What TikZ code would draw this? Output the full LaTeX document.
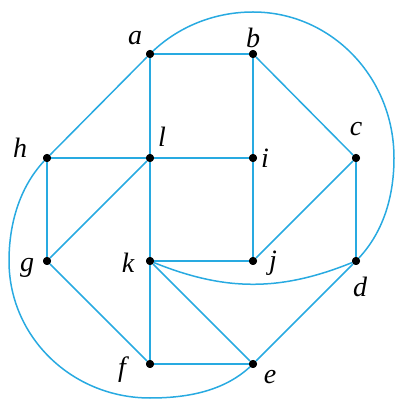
\documentclass[tikz,border=0pt]{standalone}
\usepackage{fontspec}
\setmainfont{Liberation Serif}[ItalicFont={Liberation Serif Italic}]
\usetikzlibrary{positioning}
\definecolor{edgeblue}{RGB}{40,170,225}

\begin{document}
\begin{tikzpicture}[x=1pt, y=1pt,
  vtx/.style={circle, fill=black, inner sep=0pt, minimum size=8pt},
  lbl/.style={inner sep=0pt, font=\fontsize{28}{30}\selectfont\itshape},
  edge/.style={draw=edgeblue, line width=1.5pt}]
  \useasboundingbox (0,0) rectangle (395,399);

  % Vertices
  \node[vtx] (a) at (150,345) {};
  \node[vtx] (b) at (253,345) {};
  \node[vtx] (h) at (47,241) {};
  \node[vtx] (l) at (150,241) {};
  \node[vtx] (i) at (253,241) {};
  \node[vtx] (c) at (356,241) {};
  \node[vtx] (g) at (47,138) {};
  \node[vtx] (k) at (150,138) {};
  \node[vtx] (j) at (253,138) {};
  \node[vtx] (d) at (356,138) {};
  \node[vtx] (f) at (150,35) {};
  \node[vtx] (e) at (253,35) {};

  % Labels
  \node[lbl] (la) at (135,361) {a};
  \node[lbl] (lb) at (253,361) {b};
  \node[lbl] (lc) at (356,270) {c};
  \node[lbl] (lh) at (20,251) {h};
  \node[lbl] (ll) at (162,262) {l};
  \node[lbl] (li) at (265,241) {i};
  \node[lbl] (lg) at (27,131) {g};
  \node[lbl] (lk) at (128,136) {k};
  \node[lbl] (lj) at (273,136) {j};
  \node[lbl] (ld) at (360,112) {d};
  \node[lbl] (lf) at (122,29) {f};
  \node[lbl] (le) at (270,22) {e};

  % Straight edges
  \draw[edge] (a) -- (b);
  \draw[edge] (a) -- (l);
  \draw[edge] (a) -- (h);
  \draw[edge] (b) -- (i);
  \draw[edge] (b) -- (c);
  \draw[edge] (h) -- (l);
  \draw[edge] (l) -- (i);
  \draw[edge] (h) -- (g);
  \draw[edge] (l) -- (g);
  \draw[edge] (l) -- (k);
  \draw[edge] (i) -- (j);
  \draw[edge] (c) -- (j);
  \draw[edge] (c) -- (d);
  \draw[edge] (g) -- (f);
  \draw[edge] (k) -- (f);
  \draw[edge] (k) -- (j);
  \draw[edge] (k) -- (e);
  \draw[edge] (f) -- (e);
  \draw[edge] (e) -- (d);

  % Curved edges
  \draw[edge] (k) to[bend right=22] (d);
  \coordinate (top) at (253,387);
  \coordinate (rgt) at (394,241);
  \draw[edge] (a.center) .. controls (177,372) and (214,387) .. (top)
    .. controls (331,387) and (394,322) .. (rgt)
    .. controls (394,202) and (383,165) .. (d.center);
  \coordinate (lft) at (9,138);
  \coordinate (bot) at (150,1);
  \draw[edge] (h.center) .. controls (20,214) and (9,176) .. (lft)
    .. controls (9,62) and (72,1) .. (bot)
    .. controls (188,1) and (226,8) .. (e.center);
  % dots over the lines
  \foreach \v in {a,b,c,d,e,f,g,h,i,j,k,l}
    \fill (\v) circle (4pt);
\end{tikzpicture}
\end{document}
